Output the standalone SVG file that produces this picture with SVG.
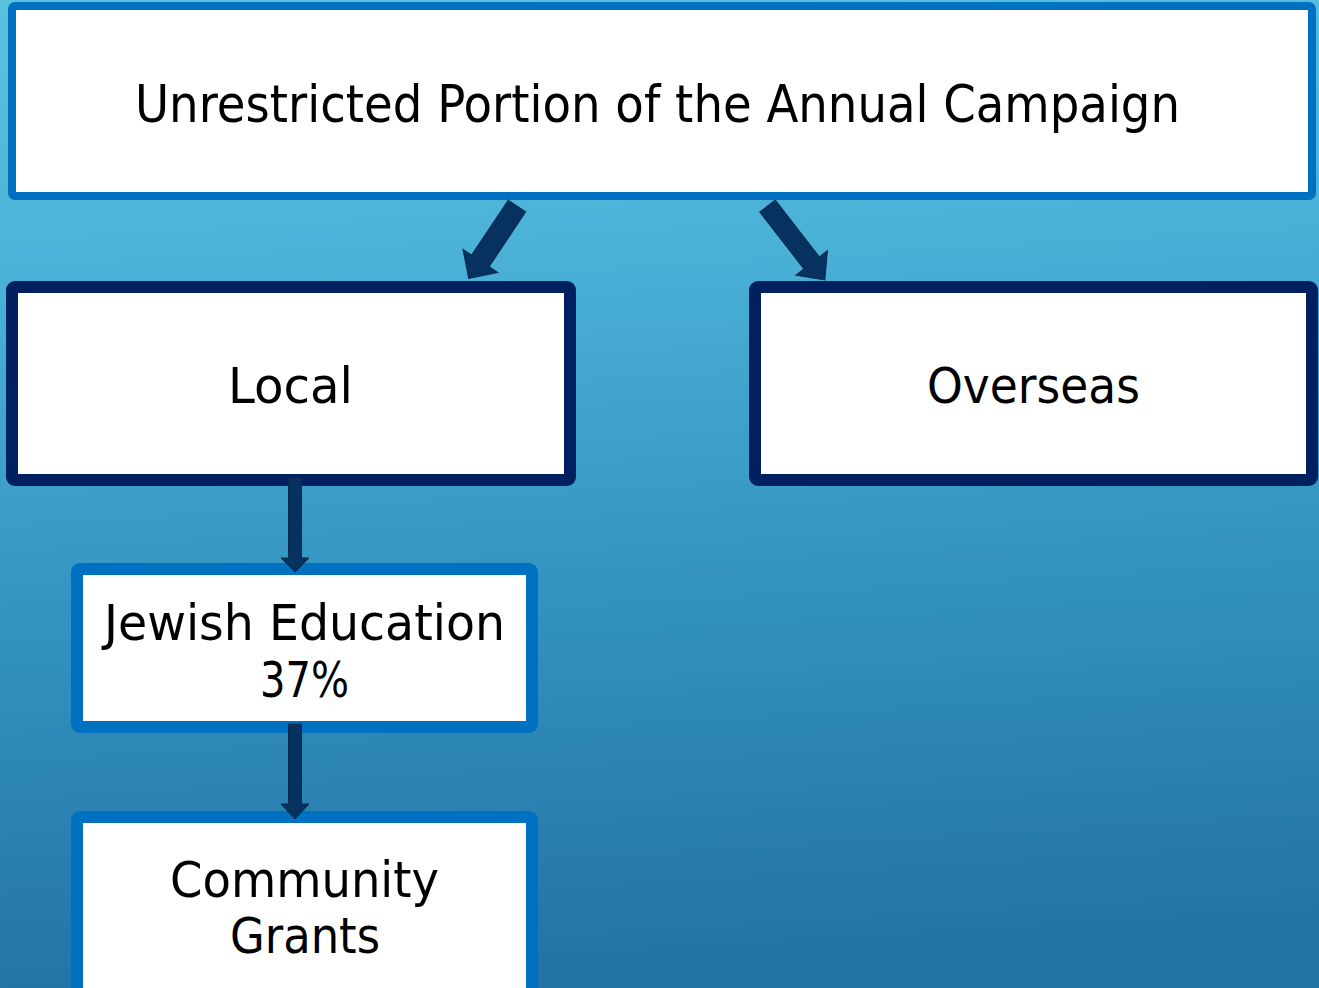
<svg xmlns="http://www.w3.org/2000/svg" width="1319" height="988" viewBox="0 0 1319 988">
  <defs>
    <linearGradient id="bg" x1="0" y1="0" x2="0.08" y2="1">
      <stop offset="0" stop-color="#5AC2DF"/>
      <stop offset="0.3" stop-color="#4AB0D6"/>
      <stop offset="0.6" stop-color="#3595C2"/>
      <stop offset="1" stop-color="#2274A6"/>
    </linearGradient>
    <style>
      .lbl { font-family: "Century Gothic", "DejaVu Sans", "Liberation Sans", sans-serif; fill: #000; text-anchor: middle; }
      .boxA { fill: #fff; stroke: #0070C0; }
      .boxB { fill: #fff; stroke: #002060; stroke-width: 12; }
      .arr { fill: #07315E; stroke: #0A2A50; stroke-width: 1; }
    </style>
  </defs>
  <rect x="0" y="0" width="1319" height="988" fill="url(#bg)"/>

  <g id="node-top">
    <rect class="boxA" x="12" y="6" width="1300" height="190" rx="3" stroke-width="8"/>
    <text class="lbl" x="657.5" y="122" font-size="52" textLength="1045" lengthAdjust="spacingAndGlyphs">Unrestricted Portion of the Annual Campaign</text>
  </g>

  <g id="node-local">
    <rect class="boxB" x="12" y="287" width="558" height="193" rx="3"/>
    <text class="lbl" x="290.5" y="403" font-size="50" textLength="125" lengthAdjust="spacingAndGlyphs">Local</text>
  </g>

  <g id="node-overseas">
    <rect class="boxB" x="755" y="287" width="557" height="193" rx="3"/>
    <text class="lbl" x="1033.5" y="403" font-size="50" textLength="213" lengthAdjust="spacingAndGlyphs">Overseas</text>
  </g>

  <g id="node-jewish-education">
    <rect class="boxA" x="77" y="569" width="455" height="158" rx="3" stroke-width="12"/>
    <text class="lbl" x="304.5" y="640" font-size="50" textLength="401" lengthAdjust="spacingAndGlyphs">Jewish Education</text>
    <text class="lbl" x="304.5" y="697" font-size="50" textLength="89" lengthAdjust="spacingAndGlyphs">37%</text>
  </g>

  <g id="node-community-grants">
    <rect class="boxA" x="77" y="817" width="455" height="200" rx="3" stroke-width="12"/>
    <text class="lbl" x="304.5" y="897" font-size="50" textLength="269" lengthAdjust="spacingAndGlyphs">Community</text>
    <text class="lbl" x="305" y="953" font-size="50" textLength="150" lengthAdjust="spacingAndGlyphs">Grants</text>
  </g>

  <g id="connectors">
    <polygon class="arr" transform="translate(517,206) rotate(123.7)" points="0,-10.5 66,-10.5 66,-21 87,0 66,21 66,10.5 0,10.5"/>
    <polygon class="arr" transform="translate(767.5,206) rotate(52.2)" points="0,-9.8 72,-9.8 72,-20 93.5,0 72,20 72,9.8 0,9.8"/>
    <polygon class="arr" points="288.5,478 301.5,478 301.5,558 309,558 295,572 281,558 288.5,558"/>
    <polygon class="arr" points="288.5,724 301.5,724 301.5,804 309,804 295,819 281,804 288.5,804"/>
  </g>
</svg>
